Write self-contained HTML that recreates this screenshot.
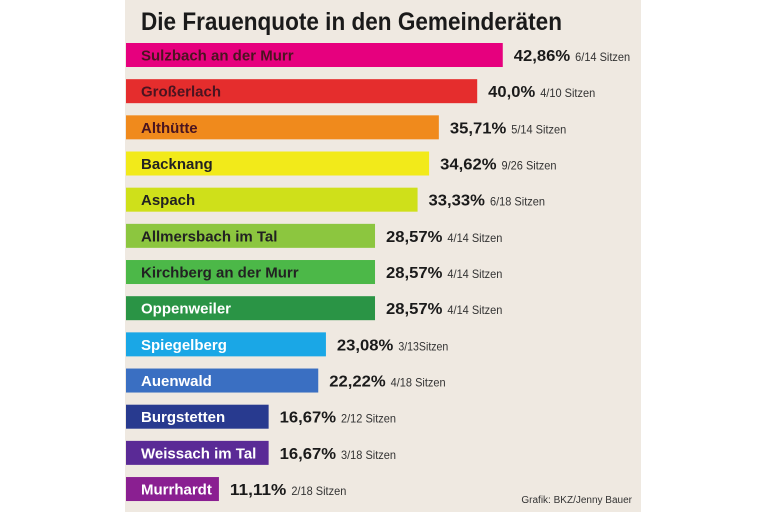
<!DOCTYPE html>
<html><head><meta charset="utf-8">
<style>
html,body{margin:0;padding:0;background:#fff;}
svg{display:block;}
text{font-family:"Liberation Sans Narrow","Liberation Sans",sans-serif;}
</style></head>
<body>
<svg id="chart" width="768" height="512" viewBox="0 0 768 512">
  <rect x="125" y="0" width="516" height="512" fill="#efe9e1"/>
  <text x="141" y="30" font-size="25" font-weight="bold" fill="#1a1a1a" textLength="421" lengthAdjust="spacingAndGlyphs">Die Frauenquote in den Gemeinderäten</text>
  <g id="bars"></g>
  <text x="632" y="503" font-size="10" text-anchor="end" fill="#333">Grafik: BKZ/Jenny Bauer</text>
</svg>
<script>
const categories = ["Sulzbach an der Murr","Großerlach","Althütte","Backnang","Aspach","Allmersbach im Tal","Kirchberg an der Murr","Oppenweiler","Spiegelberg","Auenwald","Burgstetten","Weissach im Tal","Murrhardt"];
const values = [42.86,40.0,35.71,34.62,33.33,28.57,28.57,28.57,23.08,22.22,16.67,16.67,11.11];
const valueLabels = ["42,86%","40,0%","35,71%","34,62%","33,33%","28,57%","28,57%","28,57%","23,08%","22,22%","16,67%","16,67%","11,11%"];
const seatLabels = ["6/14 Sitzen","4/10 Sitzen","5/14 Sitzen","9/26 Sitzen","6/18 Sitzen","4/14 Sitzen","4/14 Sitzen","4/14 Sitzen","3/13Sitzen","4/18 Sitzen","2/12 Sitzen","3/18 Sitzen","2/18 Sitzen"];
const colors = ["#e6007e","#e52d2d","#f08a1c","#f2ea1a","#cfe01a","#8cc63f","#4cb848","#2a9445","#1aa7e6","#3a6fc2","#283a8f","#5a2a96","#8a1f91"];
const textColors = ["#4a1420","#4a1420","#4a1420","#222","#222","#222","#222","#fff","#fff","#fff","#fff","#fff","#fff"];

const NS = "http://www.w3.org/2000/svg";
const g = document.getElementById("bars");
const x0 = 126;
function xScale(v){ return 119.6 + v * 8.94; }
function yScale(i){ return 43 + i * 36.17; }
const barH = 24;

categories.forEach((c, i) => {
  const y = yScale(i);
  const xe = xScale(values[i]);
  const r = document.createElementNS(NS, "rect");
  
  
  r.setAttribute("x", x0); r.setAttribute("y", y);
  r.setAttribute("width", xe - x0); r.setAttribute("height", barH);
  r.setAttribute("fill", colors[i]);
  g.appendChild(r);

  const t = document.createElementNS(NS, "text");
  
  
  t.setAttribute("x", 141); t.setAttribute("y", y + 17.5);
  t.setAttribute("font-size", "15"); t.setAttribute("font-weight", "bold");
  t.setAttribute("fill", textColors[i]);
  t.textContent = c;
  g.appendChild(t);

  const v = document.createElementNS(NS, "text");
  
  
  v.setAttribute("x", xe + 11); v.setAttribute("y", y + 18);
  v.setAttribute("font-size", "16"); v.setAttribute("font-weight", "bold");
  v.setAttribute("fill", "#1a1a1a");
  v.setAttribute("textLength", valueLabels[i].length * 9.4);
  v.setAttribute("lengthAdjust", "spacingAndGlyphs");
  v.textContent = valueLabels[i];
  g.appendChild(v);

  const s = document.createElementNS(NS, "text");
  
  
  s.setAttribute("x", xe + 16 + valueLabels[i].length * 9.4); s.setAttribute("y", y + 18);
  s.setAttribute("font-size", "12");
  s.setAttribute("fill", "#333");
  s.setAttribute("textLength", seatLabels[i].length * 5.0);
  s.setAttribute("lengthAdjust", "spacingAndGlyphs");
  s.textContent = seatLabels[i];
  g.appendChild(s);
});
</script>
</body></html>
